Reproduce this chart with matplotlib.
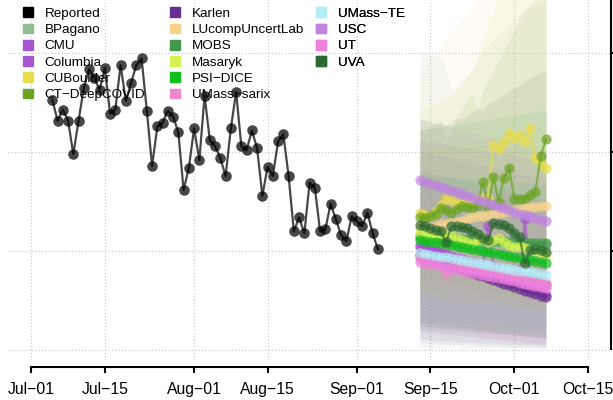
import numpy as np
import pandas as pd
import matplotlib
matplotlib.use("Agg")
import matplotlib.pyplot as plt
from matplotlib.patches import Patch

plt.rcParams['font.family'] = ['Liberation Sans', 'DejaVu Sans']

# ---- data -------------------------------------------------------------
origin = pd.Timestamp("2020-07-01")
reported_dates = pd.date_range("2020-07-05", "2020-09-05", freq="D")
reported = [353, 332, 343, 332, 298, 332, 365, 384, 375, 363,
            385, 339, 343, 388, 352, 370, 388, 395, 342, 286,
            326, 330, 342, 336, 320, 262, 284, 324, 292, 357,
            312, 306, 294, 276, 324, 361, 306, 302, 322, 304,
            256, 285, 276, 311, 318, 276, 220, 234, 218, 269,
            264, 220, 222, 248, 232, 216, 210, 235, 230, 225,
            239, 218, 202]

fc_dates = pd.date_range("2020-09-13", "2020-10-07", freq="D")

models = ["BPagano", "CMU", "Columbia", "CUBoulder", "CT\u2212DeepCOVID",
          "Karlen", "LUcompUncertLab", "MOBS", "Masaryk", "PSI\u2212DICE",
          "UMass\u2212sarix", "UMass\u2212TE", "USC", "UT", "UVA"]
colors = ["#8fbf8f", "#a855d4", "#a855d4", "#e6dc4c", "#6aa421",
          "#6a2d8f", "#f5d38c", "#409a4d", "#d4f250", "#10be1e",
          "#ee88cc", "#b4eef5", "#bf85e0", "#ee80e0", "#2d6a31"]

# point forecasts
median = {
    "BPagano": [213, 213, 212, 212, 212, 211, 211, 211, 210, 210, 210, 209, 209,
                209, 208, 208, 208, 207, 207, 207, 207, 206, 206, 206, 206],
    "CMU": [204, 203, 201, 200, 198, 197, 195, 193, 192, 190, 189, 187, 186,
            225, 185, 183, 181, 179, 177, 176, 232, 172, 170, 168, 166],
    "Columbia": [206, 204, 202, 200, 198, 196, 194, 192, 189, 187, 185, 183, 181,
                 179, 177, 175, 173, 171, 168, 166, 164, 162, 160, 158, 156],
    "CUBoulder": [239, 237, 236, 240, 247, 254, 252, 249, 248, 250, 252, 253, 254,
                  254, 307, 303, 310, 319, 314, 317, 310, 324, 294, 289, 284],
    "CT\u2212DeepCOVID": [234, 233, 235, 238, 244, 242, 239, 243, 246, 245, 244, 247, 270,
                         245, 275, 250, 274, 284, 253, 253, 253, 257, 260, 296, 313],
    "Karlen": [196, 194, 192, 191, 189, 187, 185, 184, 182, 180, 178, 176, 175,
               173, 171, 169, 167, 166, 164, 162, 160, 159, 157, 155, 154],
    "LUcompUncertLab": [223, 224, 224, 225, 227, 227, 228, 229, 230, 232, 234, 235, 236,
                        237, 238, 239, 240, 241, 242, 243, 244, 245, 245, 246, 246],
    "MOBS": [215, 215, 214, 214, 214, 213, 213, 213, 212, 212, 212, 211, 211,
             211, 210, 210, 210, 209, 209, 209, 209, 208, 208, 208, 208],
    "Masaryk": [218, 216, 215, 214, 215, 217, 215, 213, 211, 209, 207, 211, 213,
                209, 211, 213, 209, 206, 204, 205, 203, 201, 200, 198, 196],
    "PSI\u2212DICE": [211, 210, 209, 209, 208, 207, 206, 205, 204, 203, 202, 201, 200,
                     199, 198, 197, 196, 195, 194, 193, 192, 191, 190, 189, 188],
    "UMass\u2212sarix": [193, 192, 191, 190, 189, 177, 187, 186, 185, 184, 183, 182, 181,
                        180, 179, 178, 177, 176, 175, 174, 173, 172, 171, 170, 168],
    "UMass\u2212TE": [198, 197, 196, 195, 194, 194, 193, 192, 191, 190, 189, 188, 187,
                     186, 185, 184, 183, 182, 181, 180, 180, 179, 178, 177, 176],
    "USC": [272, 270, 268, 267, 265, 263, 261, 260, 258, 256, 254, 252, 251,
            249, 247, 245, 244, 242, 240, 238, 237, 235, 233, 231, 230],
    "UT": [189, 188, 187, 186, 185, 183, 182, 181, 180, 179, 178, 177, 176,
           175, 174, 173, 172, 171, 170, 168, 167, 166, 165, 164, 163],
    "UVA": [226, 225, 223, 221, 220, 209, 225, 225, 224, 223, 220, 217, 213,
            211, 228, 227, 226, 223, 218, 214, 188, 201, 202, 201, 199],
}

# prediction intervals
band_lo = {
    "BPagano": [102] * 25,
    "CMU": [107, 107, 106, 106, 106, 106, 105, 105, 105, 105, 105, 104, 104,
            104, 104, 104, 103, 103, 103, 103, 103, 102, 102, 102, 102],
    "Columbia": [118, 118, 117, 117, 116, 116, 115, 115, 114, 114, 113, 113, 112,
                 112, 111, 111, 110, 110, 109, 109, 108, 108, 107, 107, 106],
    "CUBoulder": [161, 160, 162, 158, 160, 157, 159, 155, 157, 154, 156, 152, 154,
                  150, 152, 148, 150, 146, 148, 144, 146, 142, 144, 140, 142],
    "CT\u2212DeepCOVID": [171, 168, 173, 167, 170, 165, 169, 163, 167, 161, 165, 159, 163,
                         157, 161, 155, 159, 153, 157, 151, 155, 149, 153, 147, 151],
    "Karlen": [125, 124, 124, 123, 123, 122, 122, 121, 121, 120, 120, 119, 118,
               118, 117, 117, 116, 116, 115, 115, 114, 114, 113, 113, 112],
    "LUcompUncertLab": [151, 151, 150, 150, 149, 149, 148, 148, 147, 147, 146, 146, 145,
                        145, 144, 144, 144, 143, 143, 142, 142, 141, 141, 140, 140],
    "MOBS": [121, 121, 120, 120, 120, 119, 119, 119, 118, 118, 118, 117, 117,
             117, 116, 116, 116, 115, 115, 115, 114, 114, 114, 113, 113],
    "Masaryk": [153, 152, 152, 151, 151, 150, 150, 150, 149, 149, 148, 148, 147,
                147, 147, 146, 146, 145, 145, 144, 144, 143, 143, 143, 142],
    "PSI\u2212DICE": [127, 127, 126, 126, 125, 125, 124, 124, 123, 123, 122, 122, 121,
                     121, 120, 120, 119, 119, 118, 118, 117, 117, 116, 116, 115],
    "UMass\u2212sarix": [130, 129, 128, 128, 127, 126, 125, 124, 123, 123, 122, 121, 120,
                        119, 118, 118, 117, 116, 115, 114, 113, 113, 112, 111, 110],
    "UMass\u2212TE": [130, 129, 129, 128, 127, 127, 126, 126, 125, 124, 124, 123, 122,
                     122, 121, 121, 120, 119, 119, 118, 117, 117, 116, 116, 115],
    "USC": [130, 130, 129, 129, 129, 128, 128, 127, 127, 127, 126, 126, 125,
            125, 125, 124, 124, 123, 123, 123, 122, 122, 121, 121, 120],
    "UT": [120, 119, 119, 118, 117, 117, 116, 116, 115, 114, 114, 113, 112,
           112, 111, 111, 110, 109, 109, 108, 107, 107, 106, 106, 105],
    "UVA": [110, 110, 110, 109, 109, 109, 109, 108, 108, 108, 108, 107, 107,
            107, 107, 106, 106, 106, 106, 105, 105, 105, 105, 104, 104],
}
band_hi = {
    "BPagano": [400, 400, 399, 397, 395, 383, 363, 365, 373, 378, 383, 393, 403,
                408, 414, 419, 424, 429, 434, 439, 444, 446, 449, 451, 454],
    "CMU": [312, 311, 310, 310, 309, 308, 307, 306, 305, 305, 304, 303, 302,
            301, 300, 300, 299, 298, 297, 296, 295, 295, 294, 293, 292],
    "Columbia": [302, 301, 300, 298, 297, 296, 295, 293, 292, 291, 290, 288, 287,
                 286, 285, 283, 282, 281, 280, 278, 277, 276, 275, 273, 272],
    "CUBoulder": [343, 345, 348, 350, 352, 355, 358, 362, 368, 375, 385, 398, 414,
                  430, 445, 460, 464, 464, 464, 464, 464, 464, 464, 464, 464],
    "CT\u2212DeepCOVID": [323, 323, 325, 328, 333, 312, 323, 333, 343, 353, 358, 343, 363,
                         373, 383, 393, 403, 414, 424, 434, 444, 449, 454, 464, 464],
    "Karlen": [282, 281, 280, 278, 277, 276, 275, 273, 272, 271, 270, 268, 267,
               266, 265, 263, 262, 261, 260, 258, 257, 256, 255, 253, 252],
    "LUcompUncertLab": [383, 388, 393, 401, 408, 416, 424, 428, 434, 440, 446, 454, 464,
                        464, 464, 464, 464, 464, 464, 464, 464, 464, 464, 464, 464],
    "MOBS": [322, 323, 324, 325, 326, 327, 327, 328, 329, 330, 331, 332, 332,
             333, 334, 335, 336, 337, 338, 338, 339, 340, 341, 342, 343],
    "Masaryk": [302, 303, 304, 305, 306, 306, 307, 308, 309, 310, 311, 312, 312,
                313, 314, 315, 316, 317, 318, 318, 319, 320, 321, 322, 323],
    "PSI\u2212DICE": [277, 277, 276, 276, 275, 275, 275, 274, 274, 273, 273, 272, 272,
                     272, 271, 271, 270, 270, 269, 269, 269, 268, 268, 267, 267],
    "UMass\u2212sarix": [272, 271, 270, 270, 269, 268, 267, 266, 265, 265, 264, 263, 262,
                        261, 260, 260, 259, 258, 257, 256, 255, 255, 254, 253, 252],
    "UMass\u2212TE": [282, 281, 280, 280, 279, 278, 277, 276, 275, 275, 274, 273, 272,
                     271, 270, 270, 269, 268, 267, 266, 265, 265, 264, 263, 262],
    "USC": [333, 332, 330, 329, 328, 327, 325, 324, 323, 321, 320, 319, 318,
            316, 315, 314, 312, 311, 310, 309, 307, 306, 305, 303, 302],
    "UT": [262, 261, 260, 260, 259, 258, 257, 256, 255, 255, 254, 253, 252,
           251, 250, 250, 249, 248, 247, 246, 245, 245, 244, 243, 242],
    "UVA": [333, 333, 331, 329, 330, 327, 331, 335, 333, 338, 341, 345, 343,
            349, 352, 355, 358, 362, 365, 368, 372, 375, 378, 380, 383],
}

tick_dates = pd.to_datetime(["2020-07-01", "2020-07-15", "2020-08-01", "2020-08-15",
                             "2020-09-01", "2020-09-15", "2020-10-01", "2020-10-15"])
tick_labels = ["Jul\u221201", "Jul\u221215", "Aug\u221201", "Aug\u221215",
               "Sep\u221201", "Sep\u221215", "Oct\u221201", "Oct\u221215"]
grid_y = [100, 200, 300, 400]

# ---- plot -------------------------------------------------------------
fig = plt.figure(figsize=(6.13, 4.0), dpi=100)
ax = fig.add_axes([8 / 613, 0.1, 603 / 613, 0.9])

xr = (reported_dates - origin).days
xf = (fc_dates - origin).days
xt = (tick_dates - origin).days

for m, c in zip(models, colors):
    ax.fill_between(xf, band_lo[m], band_hi[m], color=c, alpha=0.085,
                    linewidth=0, zorder=1)

ax.plot(xr, reported, color="black", alpha=0.72, lw=1.6, marker="o",
        markersize=7.6, markeredgewidth=0, zorder=3)

for m, c in zip(models, colors):
    ax.plot(xf, median[m], color=c, alpha=0.7, lw=1.6, marker="o",
            markersize=7.4, markeredgewidth=0, zorder=3)

ax.set_xlim(-4.44, 110.4)
ax.set_ylim(89.9, 453.9)

for gx in xt:
    ax.axvline(gx, color="#c4c4c4", lw=0.8, ls=(0, (1, 2)), zorder=0)
for gy in grid_y:
    ax.axhline(gy, color="#c4c4c4", lw=0.8, ls=(0, (1, 2)), zorder=0)

for s in ["top", "left"]:
    ax.spines[s].set_visible(False)
ax.spines["bottom"].set_bounds(xt[0], xt[-1])
ax.spines["bottom"].set_position(("outward", 5))
ax.spines["bottom"].set_linewidth(1.5)
ax.spines["right"].set_bounds(101, 453.9)
ax.spines["right"].set_linewidth(1.5)

ax.set_xticks(xt)
ax.set_xticklabels(tick_labels, fontsize=11.3)
ax.tick_params(axis="x", length=4, width=1.5, pad=7)
ax.set_yticks(grid_y[1:])
ax.tick_params(axis="y", left=False, labelleft=False, right=True,
               labelright=False, direction="out", length=2, width=1.5)

# legend: three columns placed like the original
all_labels = ["Reported"] + models
all_colors = ["black"] + colors
col_slices = [(0, 6), (6, 12), (12, 16)]
col_x = [16, 163, 309]
for (a, b), cx in zip(col_slices, col_x):
    hs = [Patch(color=c) for c in all_colors[a:b]]
    leg = ax.legend(hs, all_labels[a:b], loc="upper left",
                    bbox_to_anchor=(cx / 613, 1.0), bbox_transform=fig.transFigure,
                    frameon=False, fontsize=9.7, handlelength=0.74,
                    handleheight=0.74, handletextpad=0.85, labelspacing=0.27,
                    borderpad=0.55, borderaxespad=0)
    leg.set_zorder(2)
    ax.add_artist(leg)

fig.savefig("out.png", dpi=100)
